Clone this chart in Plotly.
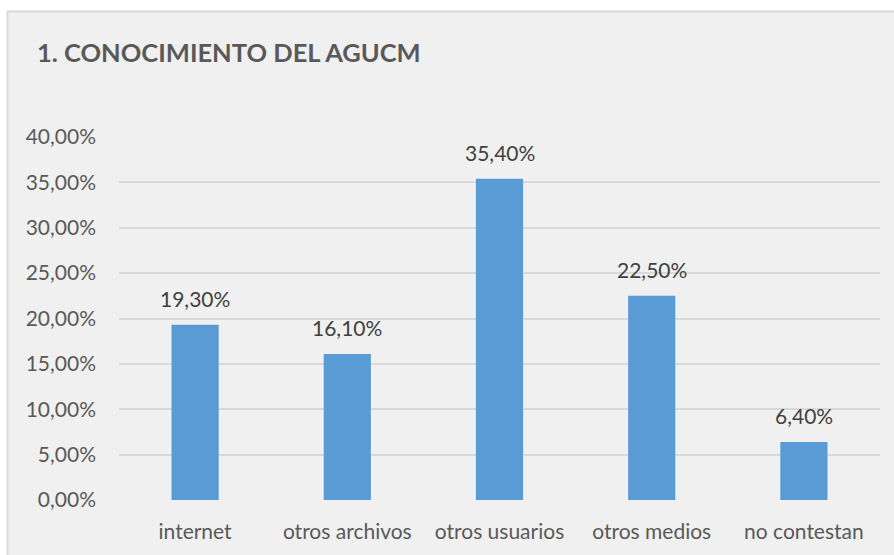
import plotly.graph_objects as go

categories = ["internet", "otros archivos", "otros usuarios", "otros medios", "no contestan"]
values = [19.30, 16.10, 35.40, 22.50, 6.40]
tick_values = [0, 5, 10, 15, 20, 25, 30, 35, 40]
tick_labels = ["0,00%", "5,00%", "10,00%", "15,00%", "20,00%", "25,00%", "30,00%", "35,00%", "40,00%"]
title_text = "1. CONOCIMIENTO DEL AGUCM"

W, H = 894, 555
ml, mr, mt, mb = 119, 14, 137, 55
pw, ph = W - ml - mr, H - mt - mb

def px_to_paper_x(p):
    return (p - ml) / pw

def px_to_paper_y(p):
    return (H - mb - p) / ph

labels = [f"{v:.2f}".replace(".", ",") + "%" for v in values]
FONT = "Lato, Open Sans, sans-serif"
TXT = "#595959"

fig = go.Figure(go.Bar(
    x=categories, y=values,
    marker=dict(color="#5B9BD5", line=dict(width=0)),
    hoverinfo="skip",
))

annotations = [dict(text=f"<b>{title_text}</b>", xref="paper", yref="paper",
                    x=px_to_paper_x(35), y=px_to_paper_y(52), xanchor="left", yanchor="middle",
                    showarrow=False, font=dict(family=FONT, size=25.5, color=TXT))]
for c, v, lab in zip(categories, values, labels):
    annotations.append(dict(x=c, y=v, xref="x", yref="y", text=lab, showarrow=False,
                            xanchor="center", yanchor="bottom", yshift=12,
                            font=dict(family=FONT, size=21, color="#404040")))

fig.update_layout(
    width=W, height=H,
    margin=dict(l=ml, r=mr, t=mt, b=mb),
    paper_bgcolor="white", plot_bgcolor="rgba(0,0,0,0)",
    bargap=0.69,
    showlegend=False,
    font=dict(family=FONT, color=TXT, size=21),
    shapes=[dict(type="rect", xref="paper", yref="paper",
                 x0=px_to_paper_x(7.5), x1=px_to_paper_x(W + 5),
                 y0=px_to_paper_y(H + 5), y1=px_to_paper_y(11.5),
                 fillcolor="#F0F0F0", line=dict(color="#D9D9D9", width=2), layer="below")],
    annotations=annotations,
)
fig.update_yaxes(range=[0, 40], tickvals=tick_values, ticktext=tick_labels,
                 showgrid=True, gridcolor="#D9D9D9", gridwidth=2, zeroline=False,
                 showline=False, ticklabelstandoff=22,
                 tickfont=dict(family=FONT, size=21, color=TXT))
fig.update_xaxes(showgrid=False, showline=False, zeroline=False, ticklabelstandoff=17,
                 tickfont=dict(family=FONT, size=21, color=TXT))

fig.write_html("out.html", config={"displayModeBar": False})

with open("out.html", "r", encoding="utf-8") as f:
    html = f.read()
html = html.replace("<head>", "<head><style>html,body{margin:0;padding:0;overflow:hidden;}</style>", 1)
with open("out.html", "w", encoding="utf-8") as f:
    f.write(html)
